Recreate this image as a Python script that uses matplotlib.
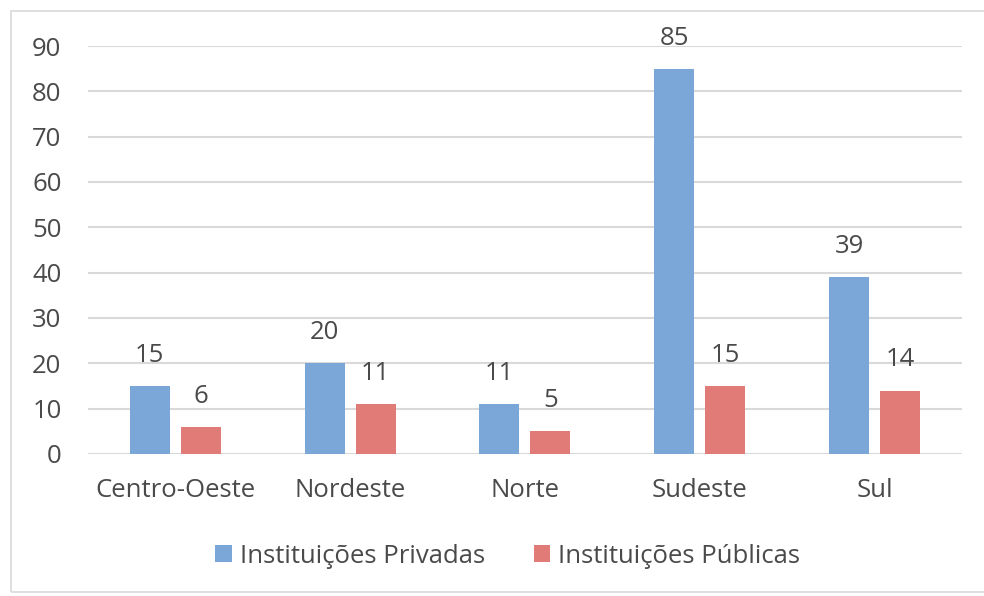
import matplotlib.pyplot as plt
import numpy as np
from matplotlib.patches import Rectangle

plt.rcParams['font.family'] = ['Open Sans', 'DejaVu Sans']

regioes = ['Centro-Oeste', 'Nordeste', 'Norte', 'Sudeste', 'Sul']
privadas = [15, 20, 11, 85, 39]
publicas = [6, 11, 5, 15, 14]

cor_priv = '#7AA7D8'
cor_pub = '#E07B78'
cinza_txt = '#4A4A4A'
cinza_grade = '#D9D9D9'
fs = 18.5

fig = plt.figure(figsize=(9.84, 5.96), dpi=100)
ax = fig.add_axes([0.0894, 0.2383, 0.8882, 0.6845])

# moldura externa do gráfico
fig.patches.append(Rectangle((0.011, 0.006), 1.2, 0.976, transform=fig.transFigure,
                             fill=False, edgecolor=cinza_grade, linewidth=1.2))

x = np.arange(len(regioes))
w = 0.229
gap = 0.063
b1 = ax.bar(x - (w + gap) / 2, privadas, w, color=cor_priv, label='Instituições Privadas', zorder=3)
b2 = ax.bar(x + (w + gap) / 2, publicas, w, color=cor_pub, label='Instituições Públicas', zorder=3)

for barras in (b1, b2):
    for r in barras:
        ax.annotate(f'{int(r.get_height())}', (r.get_x() + r.get_width() / 2, r.get_height()),
                    xytext=(0, 22), textcoords='offset points', ha='center', va='center',
                    fontsize=fs, color=cinza_txt)

ax.set_xlim(-0.5, len(regioes) - 0.5)
ax.set_ylim(0, 90)
ax.set_yticks(range(0, 91, 10))
ax.set_xticks(x)
ax.set_xticklabels(regioes)
ax.yaxis.grid(True, color=cinza_grade, linewidth=1.5, zorder=0)
ax.set_axisbelow(True)
for s in ax.spines.values():
    s.set_visible(False)
ax.tick_params(axis='both', length=0, labelsize=fs, labelcolor=cinza_txt)
ax.tick_params(axis='y', pad=19)
ax.tick_params(axis='x', pad=17)

fig.legend(handles=[b1, b2], loc='center', bbox_to_anchor=(0.516, 0.067), ncol=2,
           frameon=False, fontsize=fs, labelcolor=cinza_txt, handlelength=0.65,
           handleheight=0.65, handletextpad=0.3, columnspacing=1.9)

fig.savefig('out.png', dpi=100)
